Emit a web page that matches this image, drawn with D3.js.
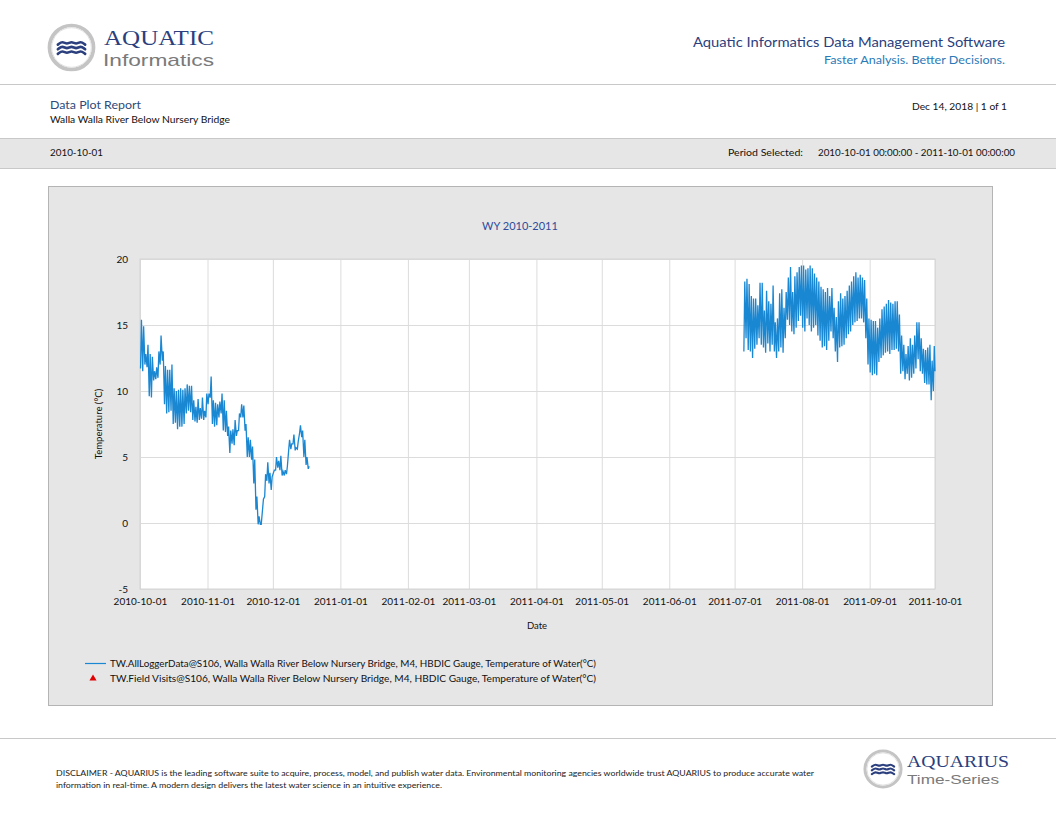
<!DOCTYPE html>
<html>
<head>
<meta charset="utf-8">
<script src="https://cdn.jsdelivr.net/npm/d3@7"></script>
<style>
  body { margin: 0; background: #fff; }
  svg { display: block; font-family: Lato, "Open Sans", sans-serif; }
</style>
</head>
<body>
<div id="page"></div>
<script>
// ---- data ----
let yTicks = [-5, 0, 5, 10, 15, 20];
let xTicks = ["2010-10-01", "2010-11-01", "2010-12-01", "2011-01-01", "2011-02-01", "2011-03-01",
              "2011-04-01", "2011-05-01", "2011-06-01", "2011-07-01", "2011-08-01", "2011-09-01", "2011-10-01"];

// autumn 2010 record, one daily max/min pair from 2010-10-01
let fallStart = "2010-10-01";
let fallHigh = [15.4, 14.9, 12.8, 13.5, 12.8, 12.6, 11.5, 11.8, 13.0, 14.2, 13.0, 11.9, 11.6, 11.6, 12.0, 10.2,
                10.0, 10.1, 10.2, 10.1, 10.2, 10.5, 10.4, 10.4, 9.3, 8.8, 9.4, 8.7, 9.5, 8.5, 9.8, 9.8,
                11.1, 9.3, 9.1, 9.0, 9.2, 9.8, 9.3, 8.5, 7.3, 7.0, 7.1, 7.8, 7.0, 8.3, 9.0, 8.9,
                7.5, 6.5, 6.3, 5.8, 4.8, 2.0, 0.5, -0.1, 1.8, 3.7, 4.6, 3.8, 3.5, 4.0, 5.0, 4.7,
                5.1, 3.9, 4.0, 4.3, 6.3, 6.0, 6.7, 5.7, 6.2, 7.4, 7.0, 6.3, 5.0, 4.3];
let fallLow  = [11.7, 11.5, 12.0, 11.8, 9.6, 9.5, 10.8, 10.9, 11.0, 12.0, 12.3, 9.0, 8.3, 8.4, 8.5, 7.5,
                7.6, 7.1, 7.3, 7.3, 7.5, 8.3, 8.5, 8.4, 7.8, 7.7, 7.6, 7.8, 7.9, 7.8, 8.0, 9.0,
                9.5, 7.5, 7.3, 7.4, 8.0, 8.3, 7.0, 6.9, 6.6, 5.3, 6.0, 5.9, 6.6, 7.0, 8.0, 8.0,
                7.0, 5.0, 5.0, 4.8, 3.0, 1.0, -0.1, -0.1, 1.0, 2.0, 3.2, 3.0, 2.5, 3.8, 4.0, 4.2,
                4.0, 3.6, 3.6, 3.7, 5.5, 5.6, 6.0, 5.5, 5.6, 6.8, 6.5, 5.0, 4.4, 4.1];

// summer 2011 record, one daily max/min pair from 2011-07-05
let summerStart = "2011-07-05";
let summerHigh = [18.3, 18.5, 18.1, 17.2, 17.0, 17.0, 16.5, 18.2, 18.2, 16.1, 17.6, 16.8, 16.6, 18.0, 15.2, 15.5,
                  17.4, 17.7, 16.3, 17.5, 18.6, 19.4, 17.5, 18.7, 19.0, 19.4, 19.5, 19.5, 19.2, 19.3, 19.5, 19.3,
                  18.9, 18.6, 18.3, 17.9, 17.7, 17.5, 17.8, 17.2, 17.8, 16.3, 15.6, 16.8, 17.4, 17.0, 17.2, 17.6,
                  18.0, 18.3, 18.7, 19.0, 18.6, 18.8, 18.6, 18.4, 17.0, 15.5, 15.4, 15.3, 15.3, 14.8, 15.5, 16.2,
                  16.4, 16.6, 16.9, 16.7, 16.6, 16.8, 16.8, 15.8, 14.2, 13.5, 12.8, 13.4, 14.0, 13.5, 14.2, 15.2,
                  15.2, 14.0, 13.2, 13.1, 13.3, 13.5, 12.3, 13.4];
let summerLow  = [13.0, 14.0, 13.1, 13.0, 12.5, 13.2, 13.5, 14.0, 13.5, 13.3, 12.9, 13.6, 13.0, 13.5, 13.0, 12.5,
                  13.0, 13.3, 12.9, 14.0, 15.4, 15.0, 14.5, 14.3, 14.8, 15.3, 15.7, 14.8, 14.5, 15.5, 15.0, 14.5,
                  14.8, 15.0, 14.2, 13.8, 13.3, 13.4, 13.1, 13.8, 14.5, 14.0, 13.0, 12.2, 13.3, 13.4, 13.5, 14.0,
                  14.3, 14.5, 15.0, 15.2, 15.3, 15.5, 15.5, 15.2, 14.0, 12.0, 11.4, 11.2, 11.3, 11.2, 12.2, 12.5,
                  12.7, 12.9, 13.0, 12.8, 13.1, 13.1, 13.2, 13.0, 11.3, 11.5, 10.9, 11.3, 10.8, 11.0, 11.3, 11.7,
                  12.4, 11.5, 11.3, 10.6, 10.5, 10.5, 9.3, 10.0];
let summerLast = 11.5; // 2011-10-01 00:00

let seriesName = "TW.AllLoggerData@S106, Walla Walla River Below Nursery Bridge, M4, HBDIC Gauge, Temperature of Water(°C)";
let visitsName = "TW.Field Visits@S106, Walla Walla River Below Nursery Bridge, M4, HBDIC Gauge, Temperature of Water(°C)";

// ---- helpers ----
let parse = d3.utcParse("%Y-%m-%d");
let fmt = d3.utcFormat("%Y-%m-%d");

// daily min in the morning, max in the afternoon
function dailyPoints(start, highs, lows) {
  let t0 = parse(start);
  let pts = [];
  highs.forEach(function (h, i) {
    let day = d3.utcDay.offset(t0, i);
    pts.push([d3.utcHour.offset(day, 6), lows[i]]);
    pts.push([d3.utcHour.offset(day, 16), h]);
  });
  return pts;
}

let fallPts = dailyPoints(fallStart, fallHigh, fallLow);
let summerPts = dailyPoints(summerStart, summerHigh, summerLow);
summerPts.push([parse("2011-10-01"), summerLast]);

// ---- page ----
let W = 1056, H = 816;
let svg = d3.select("#page").append("svg")
  .attr("width", W)
  .attr("height", H);

let navy = "#2b3f7e";

// logo mark: grey ring with three waves
function logo(g, cx, cy, r) {
  g.append("circle").attr("cx", cx).attr("cy", cy).attr("r", r)
    .attr("fill", "#fff").attr("stroke", "#c4c4c4").attr("stroke-width", r * 0.17);
  g.append("circle").attr("cx", cx).attr("cy", cy).attr("r", r * 0.9)
    .attr("fill", "none").attr("stroke", "#e2e2e2").attr("stroke-width", 1);
  let waveX = d3.scaleLinear().domain([0, 1]).range([cx - r * 0.62, cx + r * 0.62]);
  let wave = d3.line().curve(d3.curveBasis);
  [-0.21, 0, 0.21].forEach(function (dy) {
    let pts = [0, 0.17, 0.33, 0.5, 0.67, 0.83, 1].map(function (u, k) {
      return [waveX(u), cy + dy * r + (k % 2 ? -1 : 1) * r * 0.08];
    });
    g.append("path").attr("d", wave(pts)).attr("fill", "none")
      .attr("stroke", navy).attr("stroke-width", r * 0.12).attr("stroke-linecap", "round");
  });
}

let head = svg.append("g");
logo(head, 71.5, 47.5, 22);
head.append("text").attr("x", 104).attr("y", 45)
  .style("font-family", "'Liberation Serif', serif").style("font-size", "22px")
  .attr("fill", navy).attr("textLength", 110).attr("lengthAdjust", "spacingAndGlyphs")
  .text("AQUATIC");
head.append("text").attr("x", 103).attr("y", 66)
  .style("font-family", "'Liberation Sans', sans-serif").style("font-size", "17px").attr("fill", "#7a7a7a")
  .attr("textLength", 111).attr("lengthAdjust", "spacingAndGlyphs")
  .text("Informatics");

head.append("text").attr("x", 1005).attr("y", 47).attr("text-anchor", "end")
  .style("font-size", "14px").attr("fill", navy)
  .attr("textLength", 312).attr("lengthAdjust", "spacingAndGlyphs")
  .text("Aquatic Informatics Data Management Software");
head.append("text").attr("x", 1005).attr("y", 64).attr("text-anchor", "end")
  .style("font-size", "11.5px").attr("fill", "#2a7ab8")
  .attr("textLength", 181).attr("lengthAdjust", "spacingAndGlyphs")
  .text("Faster Analysis. Better Decisions.");

svg.append("line").attr("x1", 0).attr("x2", W).attr("y1", 84.5).attr("y2", 84.5)
  .attr("stroke", "#c8c8c8");

// report info
svg.append("text").attr("x", 50).attr("y", 109)
  .style("font-size", "11.5px").attr("fill", "#2e4a7a")
  .attr("textLength", 91).attr("lengthAdjust", "spacingAndGlyphs")
  .text("Data Plot Report");
svg.append("text").attr("x", 50).attr("y", 123)
  .style("font-size", "9px").attr("fill", "#111")
  .attr("textLength", 180).attr("lengthAdjust", "spacingAndGlyphs")
  .text("Walla Walla River Below Nursery Bridge");
svg.append("text").attr("x", 1007).attr("y", 110).attr("text-anchor", "end")
  .style("font-size", "9px").attr("fill", "#111")
  .attr("textLength", 95).attr("lengthAdjust", "spacingAndGlyphs")
  .text("Dec 14, 2018 | 1 of 1");

svg.append("rect").attr("x", -1).attr("y", 138.5).attr("width", W + 2).attr("height", 30)
  .attr("fill", "#e6e6e6").attr("stroke", "#c8c8c8");
svg.append("text").attr("x", 50).attr("y", 156)
  .style("font-size", "9px").attr("fill", "#111")
  .attr("textLength", 53).attr("lengthAdjust", "spacingAndGlyphs")
  .text(fallStart);
svg.append("text").attr("x", 728).attr("y", 156)
  .style("font-size", "9px").attr("fill", "#111")
  .attr("textLength", 75).attr("lengthAdjust", "spacingAndGlyphs")
  .text("Period Selected:");
svg.append("text").attr("x", 818).attr("y", 156)
  .style("font-size", "9px").attr("fill", "#111")
  .attr("textLength", 197).attr("lengthAdjust", "spacingAndGlyphs")
  .text("2010-10-01 00:00:00 - 2011-10-01 00:00:00");

// chart box
svg.append("rect").attr("x", 48.5).attr("y", 186.5).attr("width", 944).attr("height", 519)
  .attr("fill", "#e6e6e6").attr("stroke", "#b4b4b4");

svg.append("text").attr("x", 520).attr("y", 230).attr("text-anchor", "middle")
  .style("font-size", "11px").attr("fill", "#2e4b9c")
  .text("WY 2010-2011");

let margin = {top: 259, left: 140},
    width = 935 - 140,
    height = 589 - 259;

let chart = svg.append("g")
  .attr("transform", "translate(" + margin.left + "," + margin.top + ")");

let x = d3.scaleUtc()
  .domain([parse(xTicks[0]), parse(xTicks[xTicks.length - 1])])
  .range([0, width]);
let y = d3.scaleLinear()
  .domain([-5, 20])
  .range([height, 0]);

chart.append("rect").attr("width", width).attr("height", height).attr("fill", "#fff");

// grid
chart.append("g")
  .call(d3.axisLeft(y).tickValues(yTicks).tickSize(-width).tickFormat(""))
  .call(g => g.select(".domain").remove())
  .call(g => g.selectAll("line").attr("stroke", "#dcdcdc"));
chart.append("g")
  .call(d3.axisBottom(x).tickValues(xTicks.map(parse)).tickSize(height).tickFormat(""))
  .call(g => g.select(".domain").remove())
  .call(g => g.selectAll("line").attr("stroke", "#dcdcdc"));

// tick labels
chart.append("g")
  .call(d3.axisLeft(y).tickValues(yTicks).tickFormat(d => String(d)).tickSize(0).tickPadding(12))
  .call(g => g.select(".domain").remove())
  .call(g => g.selectAll("text").style("font-family", "Lato, sans-serif").style("font-size", "10px").attr("fill", "#111"));
chart.append("g")
  .attr("transform", "translate(0," + height + ")")
  .call(d3.axisBottom(x).tickValues(xTicks.map(parse)).tickFormat(fmt).tickSize(0).tickPadding(9))
  .call(g => g.select(".domain").remove())
  .call(g => g.selectAll("text").style("font-family", "Lato, sans-serif").style("font-size", "10px").attr("fill", "#111"));

chart.append("rect").attr("width", width).attr("height", height)
  .attr("fill", "none").attr("stroke", "#d4d4d4");

svg.append("text").attr("x", 537).attr("y", 629).attr("text-anchor", "middle")
  .style("font-size", "9.5px").attr("fill", "#111").text("Date");
svg.append("text").attr("transform", "translate(102,424) rotate(-90)").attr("text-anchor", "middle")
  .style("font-size", "9.5px").attr("fill", "#111").text("Temperature (°C)");

// series
let line = d3.line()
  .x(d => x(d[0]))
  .y(d => y(d[1]));
[fallPts, summerPts].forEach(function (pts) {
  chart.append("path")
    .datum(pts)
    .attr("d", line)
    .attr("fill", "none")
    .attr("stroke", "#1a87d2")
    .attr("stroke-width", 1.3);
});

// legend
let leg = svg.append("g");
leg.append("line").attr("x1", 85).attr("x2", 106).attr("y1", 663.5).attr("y2", 663.5)
  .attr("stroke", "#1a87d2").attr("stroke-width", 1.2);
leg.append("text").attr("x", 110).attr("y", 667)
  .style("font-size", "9.5px").attr("fill", "#111")
  .attr("textLength", 486).attr("lengthAdjust", "spacingAndGlyphs")
  .text(seriesName);
leg.append("path").attr("d", d3.symbol(d3.symbolTriangle, 22)())
  .attr("transform", "translate(93,678.5)").attr("fill", "#e00000");
leg.append("text").attr("x", 110).attr("y", 682)
  .style("font-size", "9.5px").attr("fill", "#111")
  .attr("textLength", 486).attr("lengthAdjust", "spacingAndGlyphs")
  .text(visitsName);

// footer
svg.append("line").attr("x1", 0).attr("x2", W).attr("y1", 738.5).attr("y2", 738.5)
  .attr("stroke", "#c8c8c8");
svg.append("text").attr("x", 56).attr("y", 776)
  .style("font-size", "7.5px").attr("fill", "#222")
  .attr("textLength", 758).attr("lengthAdjust", "spacingAndGlyphs")
  .text("DISCLAIMER - AQUARIUS is the leading software suite to acquire, process, model, and publish water data. Environmental monitoring agencies worldwide trust AQUARIUS to produce accurate water");
svg.append("text").attr("x", 56).attr("y", 788)
  .style("font-size", "7.5px").attr("fill", "#222")
  .attr("textLength", 386).attr("lengthAdjust", "spacingAndGlyphs")
  .text("information in real-time. A modern design delivers the latest water science in an intuitive experience.");

let foot = svg.append("g");
logo(foot, 883, 769, 18);
foot.append("text").attr("x", 907).attr("y", 767)
  .style("font-family", "'Liberation Serif', serif").style("font-size", "17px")
  .attr("fill", navy).attr("textLength", 102).attr("lengthAdjust", "spacingAndGlyphs")
  .text("AQUARIUS");
foot.append("text").attr("x", 907).attr("y", 784)
  .style("font-family", "'Liberation Sans', sans-serif").style("font-size", "13.5px").attr("fill", "#7a7a7a")
  .attr("textLength", 92).attr("lengthAdjust", "spacingAndGlyphs")
  .text("Time-Series");
</script>
</body>
</html>
